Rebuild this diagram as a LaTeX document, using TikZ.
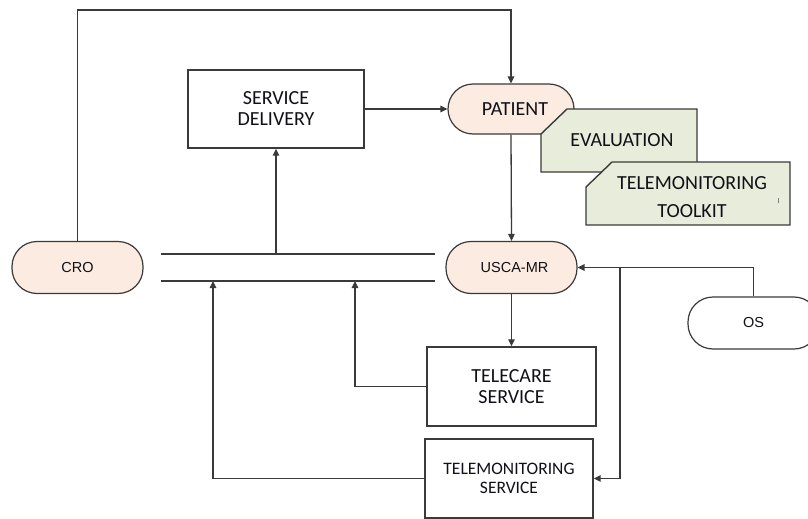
\documentclass[tikz,border=0pt]{standalone}
\usepackage{fontspec}
\newfontfamily\calfont{Carlito}
\newfontfamily\arialfont{Liberation Sans}
\usetikzlibrary{arrows.meta}
\definecolor{linec}{HTML}{3A3A3A}
\definecolor{peach}{HTML}{FCEBE0}
\definecolor{sage}{HTML}{E7ECDB}
\definecolor{textc}{HTML}{101018}
\begin{document}
\begin{tikzpicture}[x=1pt,y=-1pt,
  term/.style={draw=linec, fill=peach, line width=1.2pt, rounded corners=25pt, minimum width=131pt, minimum height=52pt, inner sep=0pt, text=textc, font=\arialfont\fontsize{14.5}{16}\selectfont},
  pbox/.style={draw=linec, fill=white, line width=1.4pt, inner sep=0pt, align=center, text=textc, font=\calfont\fontsize{20}{21}\selectfont},
  tag/.style={draw=linec, fill=sage, line width=1.4pt},
  lbl/.style={inner sep=0pt, align=center, text=textc, font=\calfont\fontsize{20}{28}\selectfont},
  conn/.style={draw=linec, line width=1.3pt},
  arr/.style={conn, -{Triangle[length=7pt,width=6.5pt]}}
]
\useasboundingbox (0,0) rectangle (808,519);
\clip (0,0) rectangle (808,519);

% terminals
\node[term] (cro) at (77.5,267.5) {CRO};
\node[term, minimum width=126pt, minimum height=50pt, font=\calfont\fontsize{20}{21}\selectfont] (patient) at (511,109) {\hspace*{8pt}PATIENT};
\node[term] (usca) at (511.5,267.5) {\hspace*{6pt}USCA-MR};
\node[term, fill=white] (os) at (753.5,323) {OS};

% process boxes
\node[pbox, minimum width=176pt, minimum height=78pt] (sd) at (276,109) {SERVICE\\DELIVERY};
\node[pbox, minimum width=169pt, minimum height=79pt] (tc) at (511.5,386.5) {TELECARE\\SERVICE};
\node[pbox, minimum width=168pt, minimum height=79pt, font=\calfont\fontsize{17.5}{19}\selectfont] (tms) at (509,478.5) {TELEMONITORING\\SERVICE};

% snipped tags
\draw[tag] (567,109) -- (697,109) -- (697,172) -- (541,172) -- (541,134) -- cycle;
\node[lbl] (eval) at (622,140) {EVALUATION};
\draw[tag] (612,162) -- (790,162) -- (790,225) -- (586,225) -- (586,187) -- cycle;
\node[lbl] (tool) at (692,197) {TELEMONITORING\\TOOLKIT};
\draw[gray, line width=0.6pt] (778,198) -- (778,203);

% bus lines
\coordinate (busTL) at (161,254);
\coordinate (busTR) at (435,254);
\coordinate (busBL) at (161,281);
\coordinate (busBR) at (435,281);
\draw[conn] (busTL) -- (busTR);
\draw[conn] (busBL) -- (busBR);
\coordinate (b1) at (213,281);
\coordinate (b2) at (355,281);
\coordinate (topc) at (0,10);
\coordinate (jn) at (620,268);

% connectors
\draw[arr] (cro.north) -- (cro.north |- topc) -| (patient.north);
\draw[arr] (sd.east) -- (patient.west);
\draw[arr] (patient.south) -- (usca.north);
\draw[arr] (sd.south |- busTL) -- (sd.south);
\draw[arr] (usca.south) -- (tc.north);
\draw[arr] (tc.west) -| (b2);
\draw[arr] (tms.west) -| (b1);
\draw[arr] (os.north) |- (usca.east);
\draw[arr] (jn) |- (tms.east);
\end{tikzpicture}
\end{document}
